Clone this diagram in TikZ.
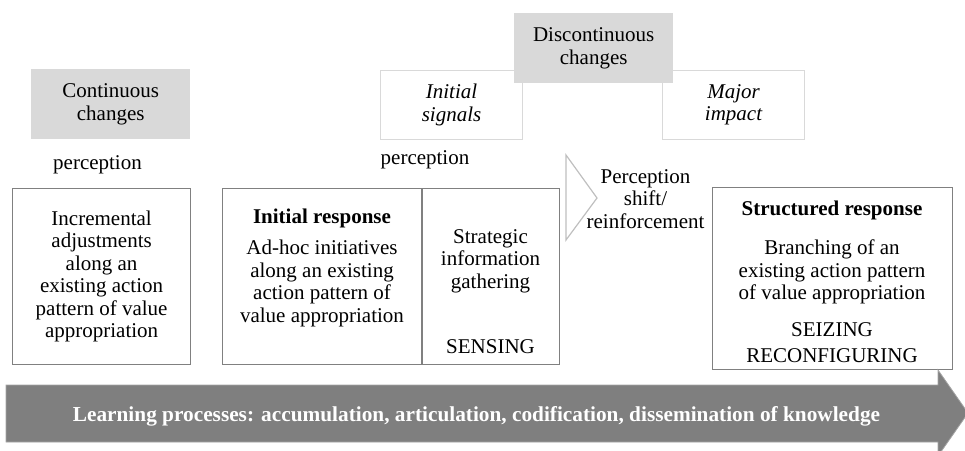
\documentclass[tikz,border=0pt]{standalone}
\usepackage{fontspec}
\setmainfont{Liberation Serif}
\definecolor{boxgray}{HTML}{808080}
\definecolor{fillgray}{HTML}{D9D9D9}
\definecolor{lightline}{HTML}{D9D9D9}
\definecolor{arrowgray}{HTML}{7F7F7F}
\definecolor{chevgray}{HTML}{BFBFBF}
\begin{document}
\begin{tikzpicture}[x=1pt,y=-1pt,
  txt/.style={inner sep=0pt, align=center, font=\fontsize{21}{22.5}\selectfont},
  darkbox/.style={draw=boxgray, line width=1.2pt, inner sep=0pt, anchor=north west},
  lightbox/.style={draw=lightline, line width=1pt, inner sep=0pt, anchor=north west, txt, font=\fontsize{21}{22.5}\selectfont\itshape},
  graybox/.style={fill=fillgray, inner sep=0pt, anchor=north west, txt},
  divline/.style={draw=boxgray, line width=1.2pt},
  chevron/.style={draw=chevgray, line width=1.2pt, line join=miter},
  bigarrow/.style={fill=arrowgray, draw=arrowgray!70, line width=0.8pt},
  arrowtxt/.style={inner sep=0pt, text=white, font=\fontsize{21.3}{23}\selectfont\bfseries}
]
\useasboundingbox (0,0) rectangle (965,450);

% top labels
\node[graybox, minimum width=159, minimum height=70] (cont) at (31,69) {Continuous\\changes};
\node[lightbox, minimum width=142, minimum height=69] (sig) at (380,70) {Initial\\signals};
\node[lightbox, minimum width=142, minimum height=69] (maj) at (662,70) {Major\\impact};
\node[graybox, minimum width=159, minimum height=70] (disc) at (514,13) {Discontinuous\\changes};

\node[txt] (perc1) at (97.5,165) {perception};
\node[txt] (perc2) at (425,160) {perception};

% boxes
\node[darkbox, minimum width=178, minimum height=176] (inc) at (12,188) {};
\node[txt] (inctxt) at (inc.center) {Incremental\\adjustments\\along an\\existing action\\pattern of value\\appropriation};

\node[darkbox, minimum width=337, minimum height=176] (ir) at (222,188) {};
\coordinate (divtop) at (422,188);
\coordinate (divbot) at (422,364);
\draw[divline] (divtop) -- (divbot);
\node[txt, font=\fontsize{21}{22.5}\selectfont\bfseries] (irtitle) at (322,218) {Initial response};
\node[txt] (irtxt) at (322,283.5) {Ad-hoc initiatives\\along an existing\\action pattern of\\value appropriation};
\node[txt] (sgtxt) at (490.5,261) {Strategic\\information\\gathering};
\node[txt] (sens) at (490.5,347) {SENSING};

% chevron
\coordinate (chA) at (566,155);
\coordinate (chB) at (597,198);
\coordinate (chC) at (566,240);
\draw[chevron] (chA) -- (chB) -- (chC) -- cycle;
\node[txt] (shift) at (645.5,199) {Perception\\shift/\\reinforcement};

\node[darkbox, minimum width=240, minimum height=182] (sr) at (712,187) {};
\node[txt, font=\fontsize{21}{22.5}\selectfont\bfseries] (srtitle) at (832,210) {Structured response};
\node[txt] (srtxt) at (832,272) {Branching of an\\existing action pattern\\of value appropriation};
\node[txt, font=\fontsize{21}{26}\selectfont] (seize) at (832,343) {SEIZING\\RECONFIGURING};

% big arrow
\draw[bigarrow] (6,385) -- (938,385) -- (938,370) -- (968,413) -- (938,456) -- (938,442) -- (6,442) -- cycle;
\node[arrowtxt] (learn) at (476.5,416) {Learning processes: accumulation, articulation, codification, dissemination of knowledge};
\end{tikzpicture}
\end{document}
